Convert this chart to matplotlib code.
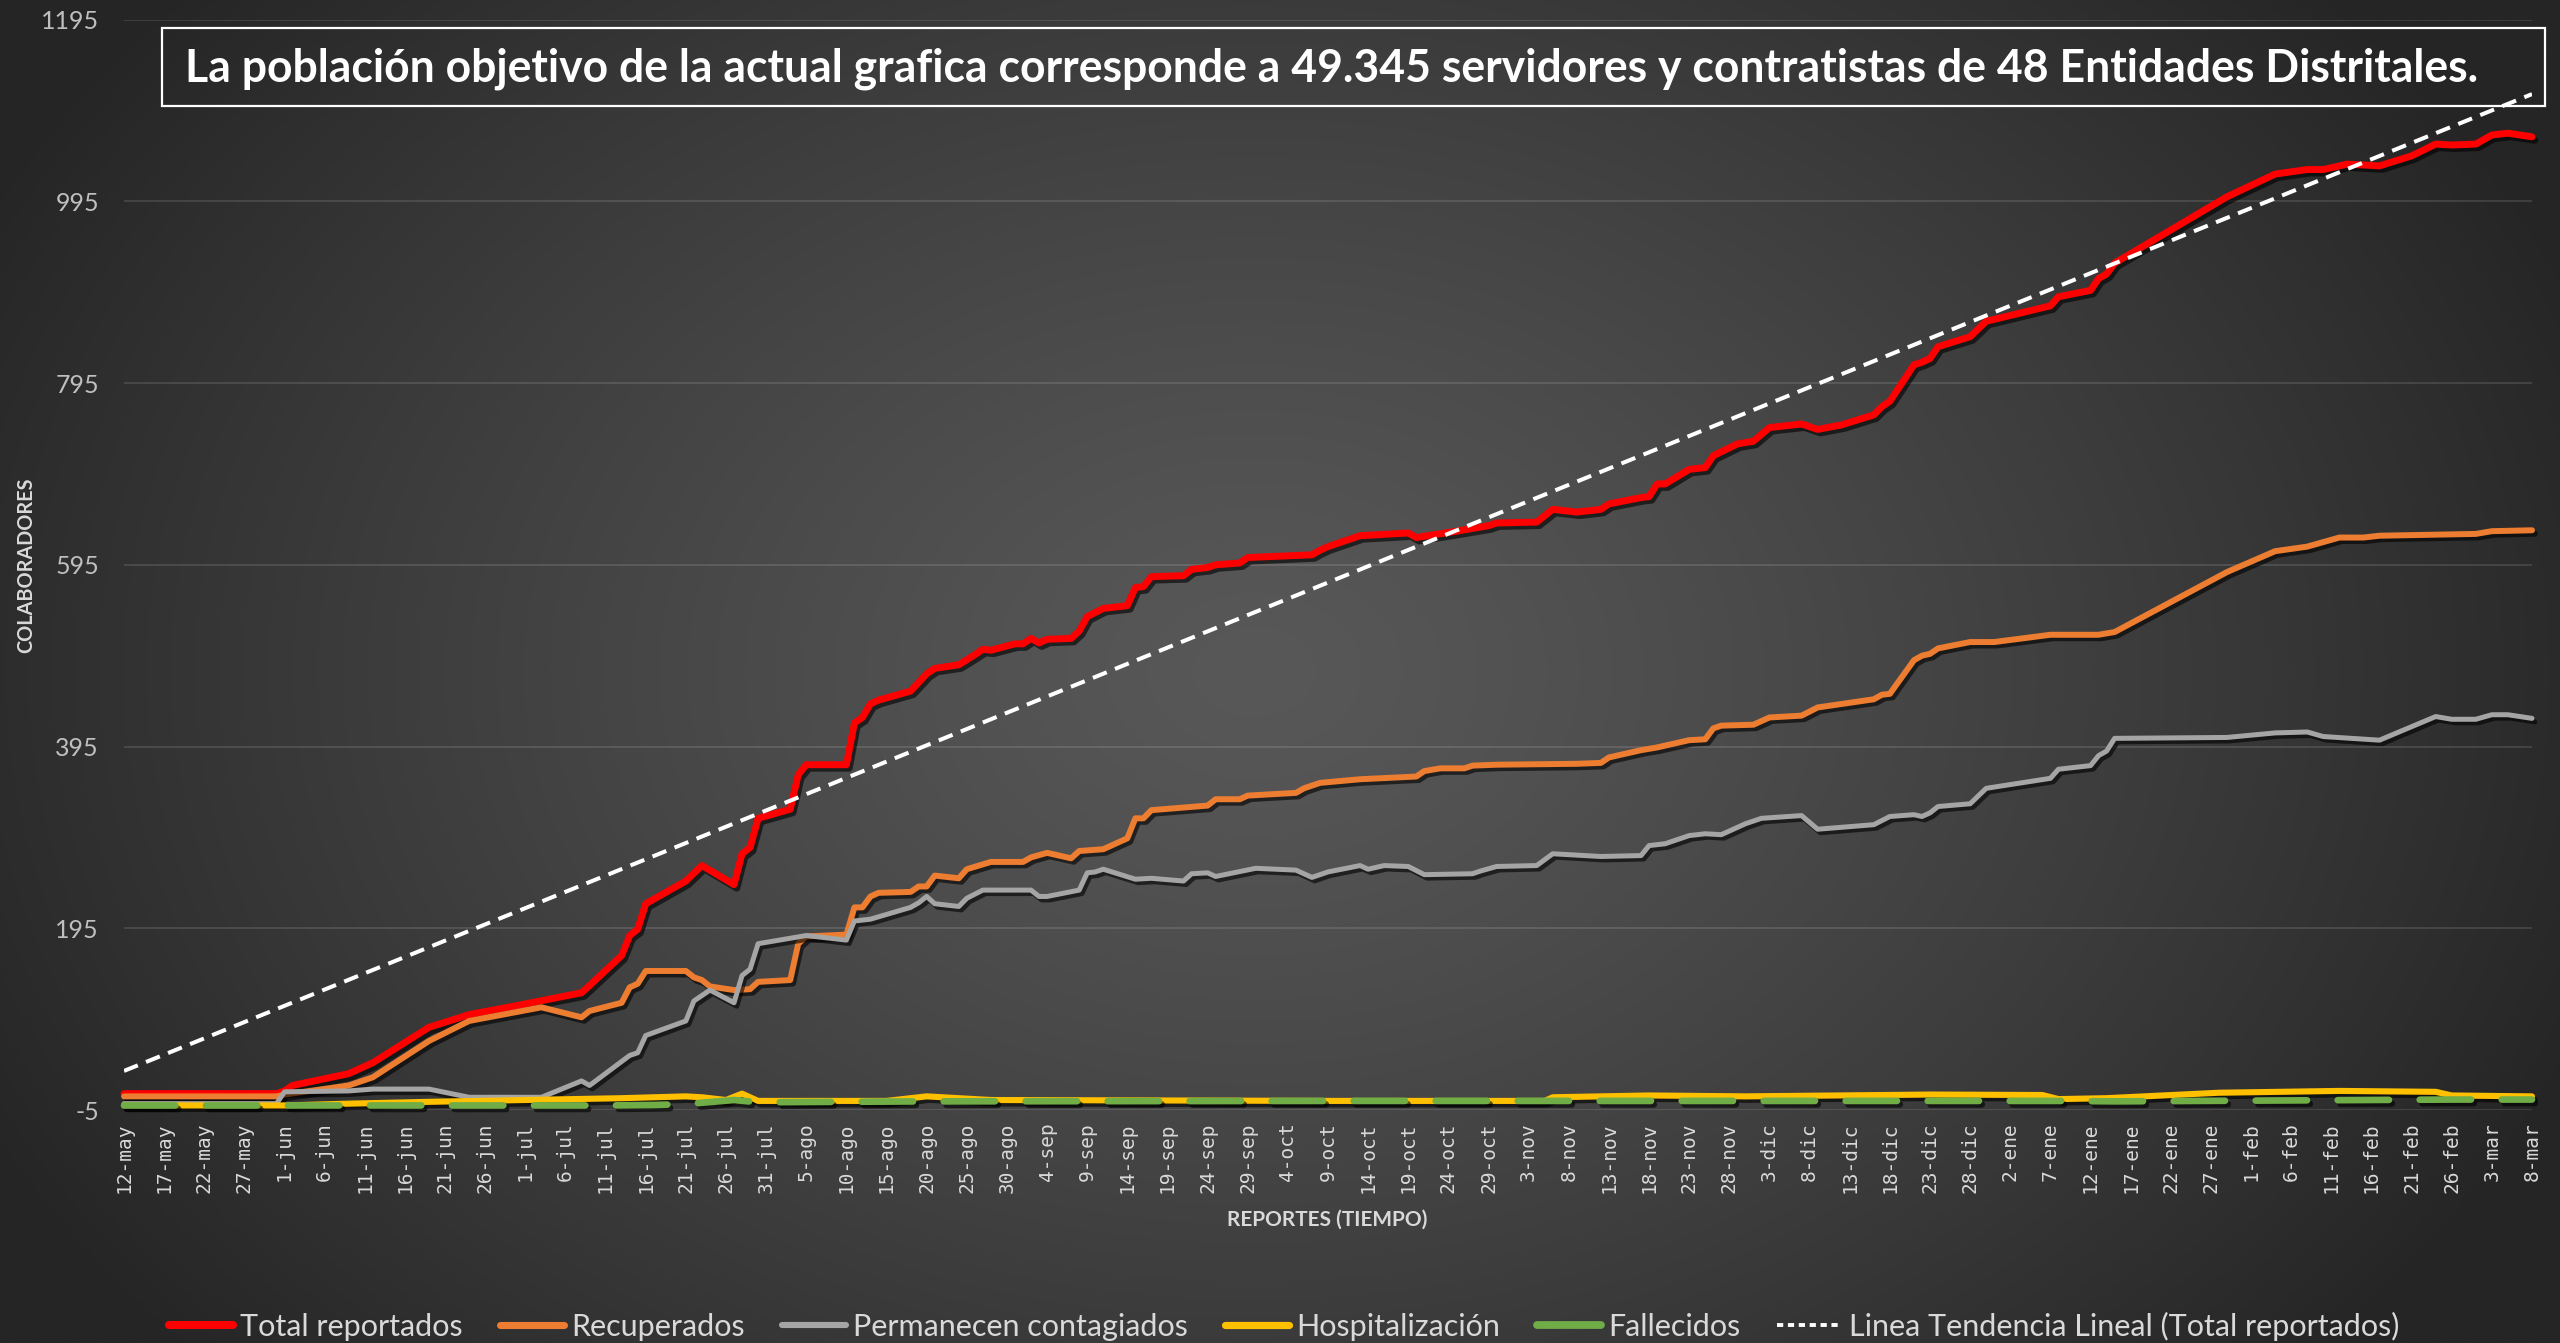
import numpy as np
import matplotlib
matplotlib.use("Agg")
import matplotlib.pyplot as plt
import matplotlib.patheffects as pe
from matplotlib.lines import Line2D
from matplotlib.patches import Rectangle

# ---------------- data ----------------
tick_labels = ["12-may", "17-may", "22-may", "27-may", "1-jun", "6-jun", "11-jun", "16-jun",
               "21-jun", "26-jun", "1-jul", "6-jul", "11-jul", "16-jul", "21-jul", "26-jul",
               "31-jul", "5-ago", "10-ago", "15-ago", "20-ago", "25-ago", "30-ago", "4-sep",
               "9-sep", "14-sep", "19-sep", "24-sep", "29-sep", "4-oct", "9-oct", "14-oct",
               "19-oct", "24-oct", "29-oct", "3-nov", "8-nov", "13-nov", "18-nov", "23-nov",
               "28-nov", "3-dic", "8-dic", "13-dic", "18-dic", "23-dic", "28-dic", "2-ene",
               "7-ene", "12-ene", "17-ene", "22-ene", "27-ene", "1-feb", "6-feb", "11-feb",
               "16-feb", "21-feb", "26-feb", "3-mar", "8-mar"]
n_days = 300          # 12-may .. 8-mar, daily reports
tick_step = 5

# day index (days since 12-may) and value for each series
total_days = [0, 19, 20, 21, 28, 31, 38, 43, 49, 57,
              58, 62, 63, 64, 65, 70, 72, 76, 77, 78,
              79, 83, 84, 85, 90, 91, 92, 93, 94, 98,
              100, 101, 104, 106, 107, 108, 111, 112, 113, 114,
              115, 118, 119, 120, 122, 125, 126, 127, 128, 132,
              133, 135, 136, 139, 140, 148, 149, 150, 154, 160,
              161, 166, 168, 170, 171, 176, 177, 178, 181, 184,
              185, 189, 190, 191, 192, 195, 197, 198, 201, 203,
              205, 209, 211, 214, 218, 219, 220, 223, 224, 225,
              226, 230, 232, 240, 241, 245, 246, 247, 248, 262,
              268, 272, 274, 277, 281, 285, 288, 290, 293, 295,
              297, 300]
total_vals = [13, 13, 16, 22, 35, 47, 86, 100, 110, 124,
              132, 165, 187, 194, 222, 247, 264, 243, 277, 284,
              316, 326, 364, 375, 375, 421, 427, 442, 446, 456,
              475, 481, 485, 496, 502, 501, 508, 508, 514, 509,
              513, 514, 522, 538, 547, 550, 570, 571, 582, 583,
              590, 592, 595, 597, 603, 606, 611, 615, 627, 630,
              625, 632, 635, 638, 641, 642, 649, 656, 653, 656,
              662, 669, 670, 684, 684, 700, 702, 715, 728, 731,
              746, 750, 744, 749, 760, 769, 775, 815, 818, 822,
              835, 846, 863, 880, 890, 897, 910, 915, 927, 1000,
              1025, 1030, 1030, 1036, 1034, 1045, 1058, 1057, 1058, 1068,
              1070, 1066]

recup_days = [0, 19, 20, 28, 31, 38, 43, 52, 57, 58,
              62, 63, 64, 65, 70, 71, 72, 73, 76, 78,
              79, 83, 84, 85, 90, 91, 92, 93, 94, 98,
              99, 100, 101, 104, 105, 108, 112, 113, 115, 118,
              119, 122, 125, 126, 127, 128, 135, 136, 139, 140,
              146, 147, 149, 154, 161, 162, 164, 167, 168, 171,
              181, 184, 185, 189, 191, 195, 197, 198, 199, 203,
              205, 209, 211, 218, 219, 220, 223, 224, 225, 226,
              230, 233, 240, 246, 248, 262, 268, 272, 276, 279,
              281, 293, 295, 300]
recup_vals = [10, 10, 12, 22, 31, 71, 93, 108, 97, 104,
              113, 130, 134, 148, 148, 141, 138, 131, 127, 128,
              136, 138, 178, 186, 188, 218, 218, 230, 234, 235,
              241, 241, 253, 250, 260, 268, 268, 273, 278, 272,
              280, 282, 294, 316, 316, 325, 330, 337, 337, 341,
              344, 349, 355, 359, 362, 368, 371, 371, 374, 375,
              376, 377, 383, 391, 394, 402, 403, 415, 418, 419,
              427, 429, 438, 447, 452, 453, 490, 495, 497, 503,
              510, 510, 518, 518, 521, 587, 610, 615, 625, 625,
              627, 629, 632, 633]

activos_days = [0, 19, 20, 28, 31, 38, 43, 52, 57, 58,
                63, 64, 65, 70, 71, 73, 76, 77, 78, 79,
                85, 90, 91, 93, 98, 99, 100, 101, 104, 105,
                107, 113, 114, 115, 119, 120, 121, 122, 126, 128,
                132, 133, 135, 136, 141, 146, 148, 150, 154, 155,
                157, 160, 162, 168, 169, 171, 176, 178, 184, 189,
                190, 192, 195, 197, 199, 202, 204, 209, 211, 218,
                220, 223, 224, 225, 226, 230, 232, 240, 241, 245,
                246, 247, 248, 262, 268, 272, 274, 281, 288, 290,
                293, 295, 297, 300]
activos_vals = [2, 2, 15, 16, 18, 18, 9, 9, 27, 22,
                55, 58, 77, 93, 115, 127, 113, 143, 150, 178,
                187, 182, 203, 205, 218, 223, 230, 222, 219, 228,
                237, 237, 230, 230, 237, 256, 257, 260, 249, 250,
                247, 255, 256, 252, 261, 259, 251, 257, 264, 260,
                264, 263, 254, 255, 258, 263, 264, 277, 274, 275,
                286, 288, 297, 299, 298, 310, 316, 319, 304, 309,
                318, 320, 318, 322, 329, 332, 349, 360, 370, 374,
                385, 390, 404, 405, 410, 411, 406, 402, 428, 425,
                425, 430, 430, 426]

hosp_days = [0, 20, 28, 38, 50, 62, 70, 72, 75, 77,
             79, 95, 100, 108, 150, 177, 178, 190, 202, 225,
             239, 241, 247, 261, 276, 288, 290, 300]
hosp_vals = [0, 0, 2, 4, 6, 8, 10, 9, 6, 13,
             5, 5, 10, 6, 5, 5, 9, 11, 10, 12,
             11.5, 7, 8, 14, 16, 15, 11, 10]

fall_days = [0, 60, 66, 70, 76, 79, 100, 150, 240, 248, 290, 300]
fall_vals = [0, 0, 0.5, 1.5, 6, 3.5, 4.5, 5, 5, 4.5, 6.5, 6.5]

trend_days = [0, 300]
trend_vals = [38, 1113]

y_min, y_max, y_step = -5, 1195, 200

title_text = ("La población objetivo de la actual grafica corresponde a 49.345 "
              "servidores y contratistas de 48 Entidades Distritales.")
series_names = ["Total reportados", "Recuperados", "Permanecen contagiados",
                "Hospitalización", "Fallecidos", "Linea Tendencia Lineal (Total reportados)"]

# ---------------- figure ----------------
W, H = 2560, 1343
fig = plt.figure(figsize=(W / 100, H / 100), dpi=100)

# radial-gradient background
bg = fig.add_axes([0, 0, 1, 1], zorder=-10)
gy, gx = np.mgrid[0:1:400j, 0:1:760j]
r = np.sqrt(((gx - 0.49) / 0.56) ** 2 + ((gy - 0.50) / 0.78) ** 2)
r = np.clip(r, 0, 1)
c_center, c_edge = 0x58 / 255, 0x25 / 255
shade = c_edge + (c_center - c_edge) * (1 - r ** 1.25)
img = np.dstack([shade, shade, shade])
bg.imshow(img, extent=[0, 1, 0, 1], aspect="auto", origin="upper", interpolation="bilinear")
bg.set_axis_off()

left, right = 124 / W, 2532 / W
bottom, top = 1 - 1110 / H, 1 - 19.6 / H
ax = fig.add_axes([left, bottom, right - left, top - bottom])
ax.patch.set_alpha(0)
for s in ax.spines.values():
    s.set_visible(False)

shadow = [pe.SimpleLineShadow(offset=(2, -2.5), shadow_color="black", alpha=0.6), pe.Normal()]

styles = [
    dict(color="#FF0000", lw=5.0),
    dict(color="#ED7D31", lw=4.3),
    dict(color="#A5A5A5", lw=3.6),
    dict(color="#FFC000", lw=4.4),
    dict(color="#70AD47", lw=4.8, linestyle=(0, (7.7, 4.6)), dash_capstyle="round"),
]
data = [(total_days, total_vals), (recup_days, recup_vals), (activos_days, activos_vals),
        (hosp_days, hosp_vals), (fall_days, fall_vals)]
for (dd, vv), st, name, z in zip(data, styles, series_names, range(3, 8)):
    ax.plot(dd, vv, solid_joinstyle="round", solid_capstyle="round",
            path_effects=shadow, zorder=z, clip_on=False, label=name, **st)

ax.plot(trend_days, trend_vals, color="white", lw=2.9, linestyle=(0, (3.7, 2.2)),
        dash_capstyle="butt", zorder=9, label=series_names[5])

ax.set_xlim(0, n_days)
ax.set_ylim(y_min, y_max)
ax.set_xticks(np.arange(0, n_days + 1, tick_step))
ax.set_xticklabels(tick_labels, family=["DejaVu Sans Mono"], fontsize=14,
                   rotation=90, color="#d9d9d9")
yt = np.arange(y_min, y_max + 1, y_step)
ax.set_yticks(yt)
sans = ["Lato", "DejaVu Sans"]
ax.set_yticklabels([str(v) for v in yt], family=sans, fontsize=18, color="#bfbfbf")
ax.tick_params(axis="x", length=0, pad=9)
ax.tick_params(axis="y", length=0, pad=18)
ax.yaxis.grid(True, color="white", alpha=0.13, lw=1.3)
ax.set_axisbelow(True)

xlab = fig.text(1327 / W, 1 - 1220 / H, "REPORTES (TIEMPO)", family=sans, fontweight="bold",
                fontsize=16, color="#d9d9d9", ha="center", va="center")
ylab = fig.text(26 / W, 1 - 565 / H, "COLABORADORES", family=sans, fontweight="bold",
                fontsize=16, color="#d9d9d9", ha="center", va="center", rotation=90)

# title box
fig.patches.append(Rectangle((162 / W, 1 - 106 / H), (2545 - 162) / W, 78 / H,
                             transform=fig.transFigure, fill=False, edgecolor="white",
                             lw=1.6, zorder=20))
title = fig.text(1331.5 / W, 1 - 68.6 / H, title_text, family=sans, fontweight="bold",
                 fontsize=32, color="white", ha="center", va="center", zorder=21)

# legend
handles = [Line2D([0], [0], color=st["color"], lw=st["lw"] + 0.8, solid_capstyle="round")
           for st in styles]
handles.append(Line2D([0], [0], color="white", lw=2.8, linestyle=(0, (1.6, 1.2))))


def make_legend(size):
    return fig.legend(handles, series_names, loc="center",
                      bbox_to_anchor=(1284 / W, 1 - 1326 / H),
                      ncol=6, frameon=False, prop=dict(family=sans, size=size),
                      labelcolor="#d9d9d9", handlelength=2.1, handletextpad=0.25,
                      columnspacing=1.2, borderaxespad=0, borderpad=0)


fig.canvas.draw()
rend = fig.canvas.get_renderer()

leg = make_legend(24)
fig.canvas.draw()
lw_px = leg.get_window_extent(rend).width
leg.remove()
leg = make_legend(24 * (2232 / lw_px))

# fit text sizes to reference extents
fig.canvas.draw()
for t, target, horiz in [(title, 2297, True), (xlab, 201, True), (ylab, 176, False)]:
    bb = t.get_window_extent(rend)
    cur = bb.width if horiz else bb.height
    t.set_fontsize(t.get_fontsize() * target / cur)

fig.savefig("out.png", dpi=100)
